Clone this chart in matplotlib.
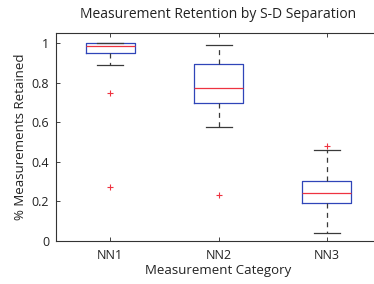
import matplotlib.pyplot as plt

# box plot summary per category
categories = ["NN1", "NN2", "NN3"]
medians = [0.985, 0.771, 0.240]
q1s = [0.948, 0.699, 0.193]
q3s = [1.000, 0.896, 0.303]
whis_lo = [0.889, 0.576, 0.039]
whis_hi = [1.000, 0.988, 0.461]
outliers = [[0.748, 0.271], [0.232], [0.480]]

plt.rcParams['font.family'] = ['Open Sans', 'DejaVu Sans']

fig = plt.figure(figsize=(3.74, 2.84), dpi=100)
# right edge runs past the canvas like the cropped original
ax = fig.add_axes([56/374, 1 - 241/284, 325/374, 208/284])

stats = []
for i, name in enumerate(categories):
  stats.append(dict(label=name, med=medians[i], q1=q1s[i], q3=q3s[i],
                    whislo=whis_lo[i], whishi=whis_hi[i], fliers=outliers[i]))

ax.bxp(stats, positions=[1, 2, 3], widths=0.45, capwidths=0.24,
       boxprops=dict(color="#2f45b8", linewidth=0.9),
       medianprops=dict(color="#ee3340", linewidth=0.9),
       whiskerprops=dict(color="#3a3a3a", linewidth=0.9, linestyle=(0, (4, 3.5))),
       capprops=dict(color="#3a3a3a", linewidth=0.9),
       flierprops=dict(marker="+", markeredgecolor="#ee3340", markersize=5,
                       markeredgewidth=0.8, linestyle="none"))

ax.set_xlim(0.5, 3.5)
ax.set_ylim(0, 1.05)
ax.set_yticks([0, 0.2, 0.4, 0.6, 0.8, 1])
ax.set_yticklabels(["0", "0.2", "0.4", "0.6", "0.8", "1"])
ax.tick_params(direction="in", length=3, width=0.6, top=True, right=True,
               labelsize=9, colors="#222222")
ax.tick_params(axis="x", pad=6)
ax.tick_params(axis="y", pad=5)
for s in ax.spines.values():
  s.set_linewidth(0.8)
  s.set_color("#333333")

ax.set_title("Measurement Retention by S-D Separation", fontsize=10, pad=11, color="#222222")
ax.set_xlabel("Measurement Category", fontsize=9.5, labelpad=1, color="#222222")
ax.set_ylabel("% Measurements Retained", fontsize=9.5, labelpad=3, color="#222222")

plt.savefig("out.png", dpi=100)
